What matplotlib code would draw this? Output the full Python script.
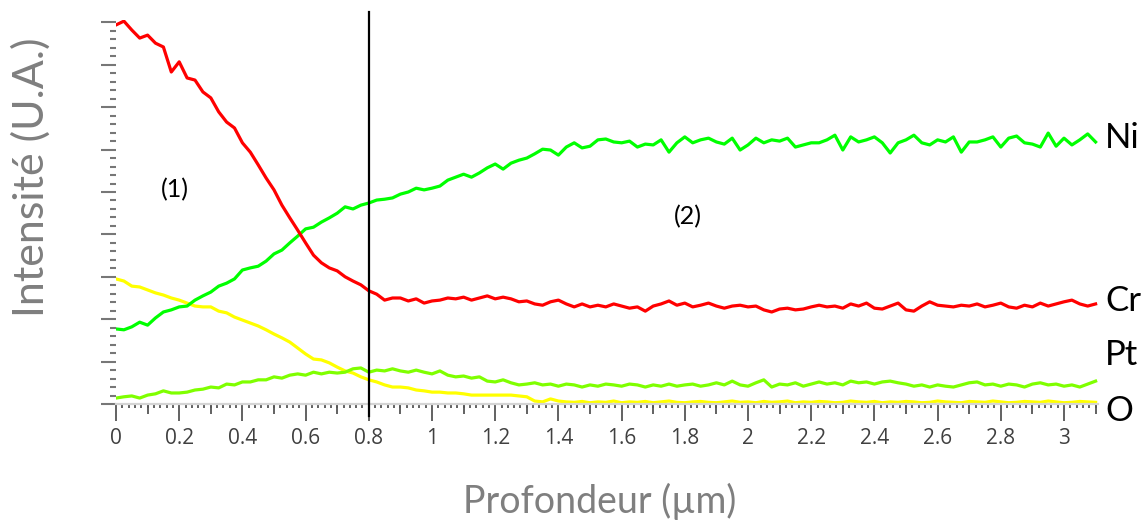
import numpy as np
import matplotlib
matplotlib.use("Agg")
import matplotlib.pyplot as plt
from matplotlib.ticker import MultipleLocator, NullFormatter, FormatStrFormatter

# ---------------- data (depth in µm, intensity in arbitrary units) ----------------
depth = np.round(np.arange(0, 125) * 0.025, 3)

cr = [8.94, 9.03, 8.82, 8.63, 8.70, 8.51, 8.42, 7.83, 8.07, 7.69,
      7.64, 7.36, 7.22, 6.89, 6.65, 6.51, 6.16, 5.94, 5.64, 5.33,
      5.05, 4.69, 4.39, 4.10, 3.80, 3.51, 3.33, 3.21, 3.14, 3.00,
      2.90, 2.81, 2.67, 2.59, 2.45, 2.50, 2.50, 2.43, 2.48, 2.38,
      2.43, 2.45, 2.50, 2.48, 2.52, 2.45, 2.50, 2.55, 2.48, 2.52,
      2.48, 2.41, 2.43, 2.36, 2.33, 2.41, 2.45, 2.36, 2.29, 2.36,
      2.29, 2.33, 2.29, 2.36, 2.31, 2.26, 2.29, 2.19, 2.31, 2.36,
      2.43, 2.33, 2.38, 2.29, 2.33, 2.38, 2.31, 2.26, 2.31, 2.33,
      2.29, 2.31, 2.22, 2.17, 2.24, 2.26, 2.22, 2.24, 2.29, 2.33,
      2.29, 2.31, 2.26, 2.36, 2.31, 2.38, 2.26, 2.24, 2.31, 2.38,
      2.22, 2.19, 2.31, 2.41, 2.33, 2.31, 2.29, 2.33, 2.31, 2.36,
      2.29, 2.33, 2.38, 2.29, 2.26, 2.33, 2.29, 2.38, 2.31, 2.36,
      2.41, 2.45, 2.36, 2.31, 2.36]

ni = [1.77, 1.75, 1.82, 1.93, 1.86, 2.03, 2.17, 2.22, 2.29, 2.31,
      2.45, 2.55, 2.64, 2.78, 2.85, 2.95, 3.16, 3.21, 3.25, 3.37,
      3.54, 3.63, 3.80, 3.96, 4.13, 4.17, 4.29, 4.39, 4.50, 4.65,
      4.60, 4.69, 4.74, 4.81, 4.83, 4.86, 4.95, 5.00, 5.09, 5.05,
      5.09, 5.14, 5.28, 5.35, 5.42, 5.35, 5.45, 5.57, 5.66, 5.54,
      5.68, 5.75, 5.80, 5.90, 6.01, 5.99, 5.87, 6.06, 6.16, 6.04,
      6.08, 6.23, 6.25, 6.18, 6.16, 6.20, 6.06, 6.13, 6.11, 6.23,
      5.94, 6.16, 6.30, 6.16, 6.23, 6.27, 6.18, 6.13, 6.27, 5.99,
      6.11, 6.27, 6.16, 6.23, 6.20, 6.27, 6.06, 6.11, 6.16, 6.16,
      6.23, 6.34, 5.99, 6.30, 6.18, 6.23, 6.30, 6.16, 5.92, 6.16,
      6.23, 6.34, 6.16, 6.11, 6.23, 6.18, 6.30, 5.94, 6.18, 6.18,
      6.23, 6.30, 6.06, 6.27, 6.32, 6.16, 6.13, 6.06, 6.39, 6.08,
      6.27, 6.11, 6.23, 6.37, 6.18]

pt = [0.14, 0.17, 0.19, 0.14, 0.21, 0.24, 0.31, 0.26, 0.26, 0.28,
      0.33, 0.35, 0.40, 0.38, 0.47, 0.45, 0.52, 0.52, 0.57, 0.57,
      0.64, 0.61, 0.68, 0.71, 0.68, 0.75, 0.71, 0.75, 0.73, 0.75,
      0.83, 0.85, 0.75, 0.80, 0.78, 0.83, 0.78, 0.75, 0.80, 0.75,
      0.71, 0.78, 0.68, 0.64, 0.66, 0.61, 0.64, 0.54, 0.52, 0.57,
      0.50, 0.45, 0.47, 0.50, 0.45, 0.47, 0.42, 0.47, 0.45, 0.40,
      0.45, 0.42, 0.47, 0.45, 0.42, 0.47, 0.45, 0.40, 0.45, 0.42,
      0.47, 0.42, 0.45, 0.47, 0.42, 0.45, 0.50, 0.45, 0.54, 0.45,
      0.42, 0.50, 0.57, 0.40, 0.47, 0.45, 0.50, 0.42, 0.47, 0.52,
      0.47, 0.50, 0.45, 0.54, 0.50, 0.52, 0.47, 0.52, 0.54, 0.50,
      0.47, 0.42, 0.45, 0.40, 0.45, 0.42, 0.40, 0.45, 0.50, 0.52,
      0.45, 0.47, 0.42, 0.47, 0.45, 0.40, 0.47, 0.50, 0.45, 0.47,
      0.42, 0.45, 0.40, 0.47, 0.54]

o = [2.95, 2.90, 2.78, 2.76, 2.69, 2.62, 2.57, 2.50, 2.45, 2.38,
     2.31, 2.29, 2.29, 2.19, 2.15, 2.05, 1.98, 1.91, 1.84, 1.75,
     1.65, 1.56, 1.46, 1.32, 1.18, 1.06, 1.04, 0.97, 0.87, 0.78,
     0.73, 0.64, 0.57, 0.52, 0.45, 0.40, 0.40, 0.38, 0.33, 0.31,
     0.28, 0.28, 0.26, 0.26, 0.24, 0.21, 0.21, 0.21, 0.21, 0.21,
     0.21, 0.19, 0.17, 0.07, 0.05, 0.12, 0.07, 0.05, 0.04, 0.06,
     0.03, 0.05, 0.04, 0.07, 0.03, 0.05, 0.04, 0.06, 0.03, 0.05,
     0.07, 0.04, 0.03, 0.05, 0.06, 0.04, 0.03, 0.05, 0.07, 0.04,
     0.05, 0.03, 0.06, 0.04, 0.05, 0.07, 0.03, 0.05, 0.04, 0.06,
     0.05, 0.03, 0.04, 0.07, 0.05, 0.04, 0.06, 0.03, 0.05, 0.04,
     0.06, 0.05, 0.03, 0.04, 0.07, 0.05, 0.04, 0.03, 0.06, 0.05,
     0.04, 0.07, 0.05, 0.03, 0.04, 0.06, 0.05, 0.04, 0.07, 0.05,
     0.03, 0.04, 0.06, 0.05, 0.04]

series_names = ["Ni", "Cr", "Pt", "O"]
interface_depth = 0.8
region_labels = ["(1)", "(2)"]
xlabel = "Profondeur (µm)"
ylabel = "Intensité (U.A.)"

# ---------------- figure ----------------
W, H = 1148, 521
fig = plt.figure(figsize=(W / 100, H / 100), dpi=100)
ax = fig.add_axes([116 / W, 1 - 404 / H, (1098 - 116) / W, (404 - 20) / H])

lw = 2.3
ax.plot(depth, o, color="#FFFF00", lw=lw, zorder=2)
ax.plot(depth, pt, color="#7FFF00", lw=lw, zorder=3)
ax.plot(depth, ni, color="#00FF00", lw=lw, zorder=4)
ax.plot(depth, cr, color="#FF0000", lw=lw, zorder=5)

ax.set_xlim(0, (1098 - 116) / 316)
ax.set_ylim(0, 384 / 42.4)

# vertical interface line (extends slightly past the axes)
ax.axvline(interface_depth, ymin=-12 / 384, ymax=(404 - 12) / 384,
           color="black", lw=1.6, clip_on=False, zorder=6)

# spines
for s in ["top", "right", "left"]:
    ax.spines[s].set_visible(False)
ax.spines["bottom"].set_color("#d4d4d4")
ax.spines["bottom"].set_linewidth(1.6)

tick_col = "#555555"
# x ticks
ax.xaxis.set_major_locator(MultipleLocator(0.2))
ax.xaxis.set_minor_locator(MultipleLocator(0.02))
ax.xaxis.set_major_formatter(FormatStrFormatter("%g"))
ax.tick_params(axis="x", which="major", direction="out", length=12, width=1.3,
               color=tick_col, labelsize=15, labelcolor="#404040", pad=5)
ax.tick_params(axis="x", which="minor", direction="out", length=3, width=1.3,
               color=tick_col)
# medium ticks at the odd 0.1 steps
sec = ax.secondary_xaxis("bottom")
sec.set_xticks(np.round(np.arange(0.1, 3.11, 0.2), 2))
sec.xaxis.set_major_formatter(NullFormatter())
sec.tick_params(axis="x", which="major", direction="out", length=7, width=1.3,
                color=tick_col)
sec.spines["bottom"].set_visible(False)

# y ticks
ax.yaxis.set_major_locator(MultipleLocator(1))
ax.yaxis.set_minor_locator(MultipleLocator(0.2))
ax.yaxis.set_major_formatter(NullFormatter())
ax.tick_params(axis="y", which="major", direction="out", length=11, width=1.5,
               color="#777777")
ax.tick_params(axis="y", which="minor", direction="out", length=4, width=1.5,
               color="#777777")

for lab in ax.get_xticklabels():
    lab.set_fontfamily("Open Sans")

# axis labels
ax.set_xlabel(xlabel, fontsize=27, color="#7f7f7f", family="Lato")
ax.xaxis.set_label_coords(0.493, -0.205)
ax.set_ylabel(ylabel, fontsize=31, color="#7f7f7f", family="Lato")
ax.yaxis.set_label_coords(-0.066, 0.59)

# element labels at the right end
lab_x = 3.13
label_y = {"Ni": 6.27, "Cr": 2.43, "Pt": 1.16, "O": -0.17}
for name in series_names:
    ax.text(lab_x, label_y[name], name, fontsize=25, family="Lato", color="black",
            ha="left", va="center", clip_on=False)

# region labels
ax.text(0.187, 5.05, region_labels[0], fontsize=18, family="Lato",
        ha="center", va="center")
ax.text(1.81, 4.41, region_labels[1], fontsize=18, family="Lato",
        ha="center", va="center")

fig.savefig("out.png", dpi=100)
